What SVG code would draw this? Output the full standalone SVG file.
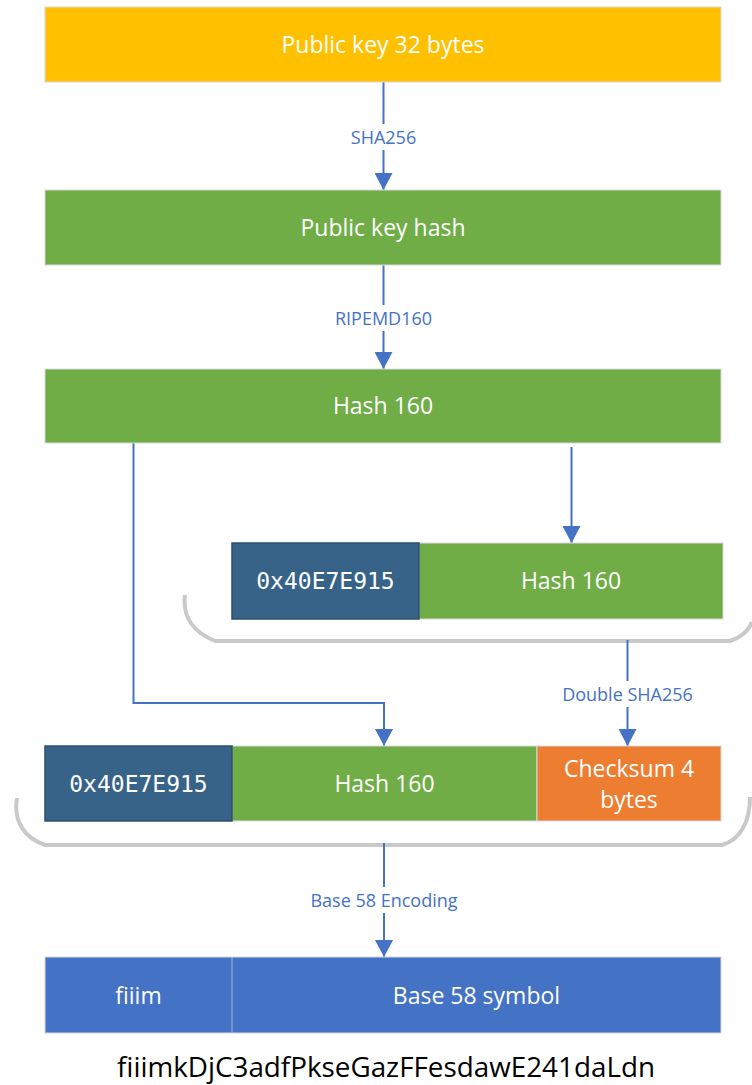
<svg xmlns="http://www.w3.org/2000/svg" width="752" height="1085" viewBox="0 0 752 1085">
  <style>
    .box { stroke: #D9D9D9; stroke-width: 1; }
    .amber { fill: #FFC000; }
    .green { fill: #70AD47; }
    .navy { fill: #376388; stroke: #2C4F6E; stroke-width: 1.5; }
    .orange { fill: #ED7D31; }
    .blue { fill: #4472C4; }
    .lbl { font-family: "Open Sans", "Noto Sans", "Liberation Sans", sans-serif; font-size: 23px; fill: #FFFFFF; text-anchor: middle; }
    .mono { font-family: "DejaVu Sans Mono", "Liberation Mono", monospace; font-size: 23px; fill: #FFFFFF; text-anchor: middle; }
    .edge { fill: none; stroke: #4472C4; stroke-width: 2; }
    .elbl { font-family: "Open Sans", "Noto Sans", "Liberation Sans", sans-serif; font-size: 18px; fill: #4472C4; text-anchor: middle; }
    .gap { fill: #FFFFFF; }
    .brace { fill: none; stroke: #C9C9C9; stroke-width: 4; stroke-linecap: butt; }
    .result { font-family: "Open Sans", "Noto Sans", "Liberation Sans", sans-serif; font-size: 27.7px; fill: #000000; text-anchor: middle; }
  </style>
  <defs>
    <marker id="arrow" markerUnits="userSpaceOnUse" markerWidth="18" markerHeight="18" viewBox="0 0 18 18" refX="17" refY="9" orient="auto">
      <path d="M0,0 L17,9 L0,18 Z" fill="#4472C4"/>
    </marker>
  </defs>

  <rect width="752" height="1085" fill="#FFFFFF"/>

  <!-- grouping braces -->
  <g id="braces">
    <path class="brace" d="M185,595 C182,618 195,633 215,641 L730,641 C742,637 749,630 752,622"/>
    <path class="brace" d="M17,798 C13,822 25,838 45,845 L722,845 C740,840 750,822 750,797"/>
  </g>

  <!-- connectors -->
  <g id="connectors">
    <line class="edge" x1="383.5" y1="82" x2="383.5" y2="190" marker-end="url(#arrow)"/>
    <rect class="gap" x="340" y="124" width="88" height="26"/>
    <text class="elbl" x="383.5" y="143.5">SHA256</text>

    <line class="edge" x1="383.5" y1="265" x2="383.5" y2="369" marker-end="url(#arrow)"/>
    <rect class="gap" x="320" y="305" width="128" height="26"/>
    <text class="elbl" x="383.5" y="324.5">RIPEMD160</text>

    <line class="edge" x1="571.5" y1="447" x2="571.5" y2="543" marker-end="url(#arrow)"/>

    <polyline class="edge" points="133.5,443 133.5,703 384,703 384,746" marker-end="url(#arrow)"/>

    <line class="edge" x1="627.5" y1="640" x2="627.5" y2="746" marker-end="url(#arrow)"/>
    <rect class="gap" x="556" y="681" width="143" height="26"/>
    <text class="elbl" x="627.5" y="700.5">Double SHA256</text>

    <line class="edge" x1="384" y1="843" x2="384" y2="957" marker-end="url(#arrow)"/>
    <rect class="gap" x="302" y="887" width="164" height="26"/>
    <text class="elbl" x="384" y="906.5">Base 58 Encoding</text>
  </g>

  <!-- nodes -->
  <g id="public-key">
    <rect class="box amber" x="45" y="7" width="676" height="75"/>
    <text class="lbl" x="383" y="52.5">Public key 32 bytes</text>
  </g>

  <g id="public-key-hash">
    <rect class="box green" x="45" y="190" width="676" height="75"/>
    <text class="lbl" x="383" y="235.5">Public key hash</text>
  </g>

  <g id="hash160">
    <rect class="box green" x="45" y="369" width="676" height="74"/>
    <text class="lbl" x="383" y="414">Hash 160</text>
  </g>

  <g id="versioned-hash">
    <rect class="box green" x="419" y="543" width="304" height="76"/>
    <rect class="navy" x="232" y="543" width="187" height="76"/>
    <text class="mono" x="325.5" y="589">0x40E7E915</text>
    <text class="lbl" x="571" y="589">Hash 160</text>
  </g>

  <g id="address-bytes">
    <rect class="box green" x="232" y="746" width="305" height="75"/>
    <rect class="box orange" x="537" y="746" width="184" height="75"/>
    <rect class="navy" x="45" y="746" width="187" height="75"/>
    <text class="mono" x="138.5" y="791.5">0x40E7E915</text>
    <text class="lbl" x="384.5" y="791.5">Hash 160</text>
    <text class="lbl" x="629" y="777">Checksum 4</text>
    <text class="lbl" x="629" y="808">bytes</text>
  </g>

  <g id="base58">
    <rect class="box blue" x="45" y="957" width="676" height="76"/>
    <line x1="232" y1="957" x2="232" y2="1033" stroke="#A9B9D9" stroke-width="1"/>
    <text class="lbl" x="138.5" y="1003.5">fiiim</text>
    <text class="lbl" x="476.5" y="1003.5">Base 58 symbol</text>
  </g>

  <g id="address">
    <text class="result" x="386" y="1077" textLength="538" lengthAdjust="spacingAndGlyphs">fiiimkDjC3adfPkseGazFFesdawE241daLdn</text>
  </g>
</svg>
